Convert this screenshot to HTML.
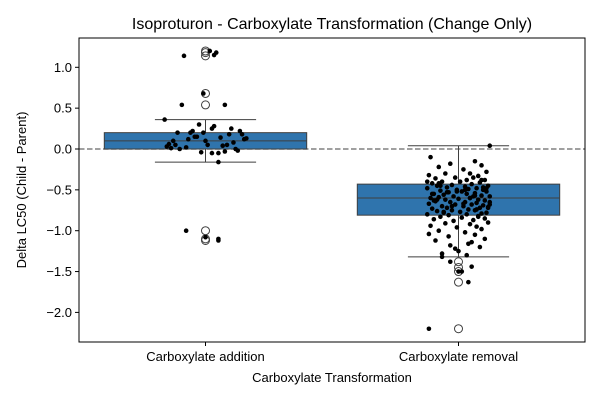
<!DOCTYPE html>
<html><head><meta charset="utf-8">
<style>
html,body{margin:0;padding:0;background:#fff;}
svg{display:block;font-family:"Liberation Sans","DejaVu Sans",sans-serif;}
</style></head>
<body>
<svg id="chart" width="600" height="400" viewBox="0 0 600 400"></svg>
<script>
const categories = ["Carboxylate addition", "Carboxylate removal"];
const q1s = [0.0, -0.81];
const medians = [0.1, -0.6];
const q3s = [0.2, -0.43];
const whiskLow = [-0.16, -1.32];
const whiskHigh = [0.36, 0.04];
const outliers1 = [1.2, 1.18, 1.14, 0.68, 0.54, -1.0, -1.1, -1.12];
const outliers2 = [-1.38, -1.45, -1.5, -1.63, -2.2];
const yTicks = [1.0, 0.5, 0.0, -0.5, -1.0, -1.5, -2.0];
const yTickLabels = ["1.0", "0.5", "0.0", "\u22120.5", "\u22121.0", "\u22121.5", "\u22122.0"];
const points1 = [1.14,1.2,1.18,1.15,0.68,0.54,0.54,0.36,0.3,0.25,0.22,0.2,0.2,0.18,0.15,0.14,0.12,0.1,0.08,0.06,0.05,0.04,0.02,0.0,-0.02,-0.04,-0.05,0.1,0.12,0.22,0.25,0.18,0.05,0.03,-0.16,-0.05,0.0,0.15,-1.0,-1.1,-1.12,-1.08,0.28,0.05,0.13,0.2,0.01,-0.03];
const jitter1 = [-0.1,0.02,0.05,0.04,-0.01,-0.11,0.09,-0.19,-0.03,0.03,0.16,-0.13,-0.07,0.11,-0.05,0.07,0.18,-0.15,0.13,-0.17,0.01,0.08,-0.09,-0.12,0.15,-0.02,0.06,0.0,-0.08,-0.06,0.12,0.17,0.1,-0.18,0.06,0.03,0.14,-0.04,-0.09,0.06,0.06,0.0,0.04,-0.14,0.19,-0.01,-0.16,0.09];
const points2 = [0.04,-0.1,-0.15,-0.18,-0.2,-0.22,-0.25,-0.28,-0.3,-0.3,-0.32,-0.33,-0.35,-0.35,-0.36,-0.38,-0.38,-0.4,-0.4,-0.41,-0.42,-0.43,-0.44,-0.45,-0.45,-0.46,-0.47,-0.48,-0.48,-0.49,-0.5,-0.5,-0.51,-0.52,-0.52,-0.53,-0.54,-0.55,-0.55,-0.56,-0.57,-0.58,-0.58,-0.59,-0.6,-0.6,-0.61,-0.62,-0.62,-0.63,-0.64,-0.65,-0.65,-0.66,-0.67,-0.68,-0.68,-0.69,-0.7,-0.7,-0.71,-0.72,-0.72,-0.73,-0.74,-0.75,-0.75,-0.76,-0.77,-0.78,-0.78,-0.79,-0.8,-0.8,-0.81,-0.82,-0.83,-0.84,-0.85,-0.86,-0.87,-0.88,-0.9,-0.91,-0.92,-0.94,-0.95,-0.96,-0.98,-1.0,-1.02,-1.04,-1.05,-1.07,-1.1,-1.12,-1.14,-1.16,-1.18,-1.2,-1.22,-1.25,-1.28,-1.3,-1.32,-1.38,-1.44,-1.5,-1.5,-1.63,-2.2,-0.42,-0.47,-0.53,-0.57,-0.63,-0.67,-0.72,-0.77,-0.83,-0.55,-0.6,-0.65,-0.45,-0.5,-0.7,-0.38,-0.4,-0.58,-0.62,-0.48,-0.52,-0.74,-0.68];
const jitter2 = [0.19,-0.17,0.1,-0.05,0.14,-0.12,0.03,0.17,-0.08,0.07,-0.18,0.12,-0.02,0.09,-0.14,0.05,0.16,-0.1,0.01,0.13,-0.16,0.08,-0.04,0.18,-0.13,0.04,-0.07,0.11,-0.19,0.06,-0.01,0.15,-0.11,0.02,0.17,-0.06,0.1,-0.15,0.05,-0.09,0.14,-0.03,0.19,-0.12,0.07,-0.17,0.0,0.12,-0.08,0.16,-0.14,0.04,-0.05,0.11,-0.18,0.08,-0.02,0.15,-0.1,0.03,0.18,-0.07,0.13,-0.16,0.06,-0.04,0.1,-0.13,0.01,0.17,-0.09,0.14,-0.19,0.05,-0.06,0.12,-0.11,0.02,0.16,-0.15,0.09,-0.03,0.18,-0.08,0.07,-0.17,0.11,-0.01,0.14,-0.12,0.04,-0.18,0.1,-0.06,0.16,-0.14,0.08,0.06,-0.05,0.13,-0.02,0.0,-0.1,0.05,-0.1,-0.05,0.08,0.02,0.0,0.06,-0.18,-0.12,0.15,-0.07,0.1,-0.15,0.03,0.18,-0.09,0.12,-0.16,0.07,0.19,-0.11,0.04,-0.04,0.14,-0.19,0.09,-0.13,0.17,-0.01,0.11];

const NS = "http://www.w3.org/2000/svg";
const svg = document.getElementById("chart");
const L = 79, R = 585, T = 38, B = 342;
const y = v => 149 - v * 81.7;
const bandW = (R - L) / 2;
const x = i => L + bandW * (i + 0.5);
function mk(tag, attrs, parent) {
  const e = document.createElementNS(NS, tag);
  for (const k in attrs) e.setAttribute(k, attrs[k]);
  (parent || svg).appendChild(e);
  return e;
}
const edge = "#3f3f3f";
const zl = mk("line", {x1: L, x2: R, y1: y(0), y2: y(0), stroke: "#808080", "stroke-width": 1.5, "stroke-dasharray": "5.5,2.5"});


const outl = [outliers1, outliers2];
for (let i = 0; i < 2; i++) {
  const g = mk("g", {});
  
  
  const cx = x(i), w = bandW * 0.8, cw = w / 2;
  mk("line", {x1: cx, x2: cx, y1: y(q3s[i]), y2: y(whiskHigh[i]), stroke: edge, "stroke-width": 1}, g);
  mk("line", {x1: cx, x2: cx, y1: y(q1s[i]), y2: y(whiskLow[i]), stroke: edge, "stroke-width": 1}, g);
  mk("line", {x1: cx - cw / 2, x2: cx + cw / 2, y1: y(whiskHigh[i]), y2: y(whiskHigh[i]), stroke: edge}, g);
  mk("line", {x1: cx - cw / 2, x2: cx + cw / 2, y1: y(whiskLow[i]), y2: y(whiskLow[i]), stroke: edge}, g);
  mk("rect", {x: cx - w / 2, y: y(q3s[i]), width: w, height: y(q1s[i]) - y(q3s[i]), fill: "#2f74ad", stroke: edge, "stroke-width": 1}, g);
  mk("line", {x1: cx - w / 2, x2: cx + w / 2, y1: y(medians[i]), y2: y(medians[i]), stroke: edge, "stroke-width": 1}, g);
  outl[i].forEach(v => {
    const c = mk("circle", {cx: cx, cy: y(v), r: 4, fill: "none", stroke: edge, "stroke-width": 1});
    
    
  });
}
const jitterScale = [0.85, 0.65];
[[points1, jitter1, 0], [points2, jitter2, 1]].forEach(([pts, jit, i]) => {
  pts.forEach((v, k) => {
    const c = mk("circle", {cx: x(i) + jit[k % jit.length] * bandW * jitterScale[i], cy: y(v), r: 2.3, fill: "#000"});
    
    
  });
});
const fr = mk("rect", {x: L, y: T, width: R - L, height: B - T, fill: "none", stroke: "#000", "stroke-width": 1});


yTicks.forEach((v, k) => {
  mk("line", {x1: L - 4, x2: L, y1: y(v), y2: y(v), stroke: "#000"});
  const t = mk("text", {x: L - 7, y: y(v) + 4.5, "text-anchor": "end", "font-size": 13, fill: "#000"});
  t.textContent = yTickLabels[k];
  
  
});
categories.forEach((c, i) => {
  mk("line", {x1: x(i), x2: x(i), y1: B, y2: B + 4, stroke: "#000"});
  const t = mk("text", {x: x(i), y: B + 19, "text-anchor": "middle", "font-size": 13, fill: "#000"});
  t.textContent = c;
  
  
});
const xt = mk("text", {x: (L + R) / 2, y: 382, "text-anchor": "middle", "font-size": 13, fill: "#000"});
xt.textContent = "Carboxylate Transformation";


const yt = mk("text", {x: 0, y: 0, "text-anchor": "middle", "font-size": 13, fill: "#000", transform: "translate(26," + (T + B) / 2 + ") rotate(-90)"});
yt.textContent = "Delta LC50 (Child - Parent)";


const tt = mk("text", {x: (L + R) / 2, y: 29, "text-anchor": "middle", "font-size": 16, fill: "#000"});
tt.textContent = "Isoproturon - Carboxylate Transformation (Change Only)";


</script>
</body></html>
